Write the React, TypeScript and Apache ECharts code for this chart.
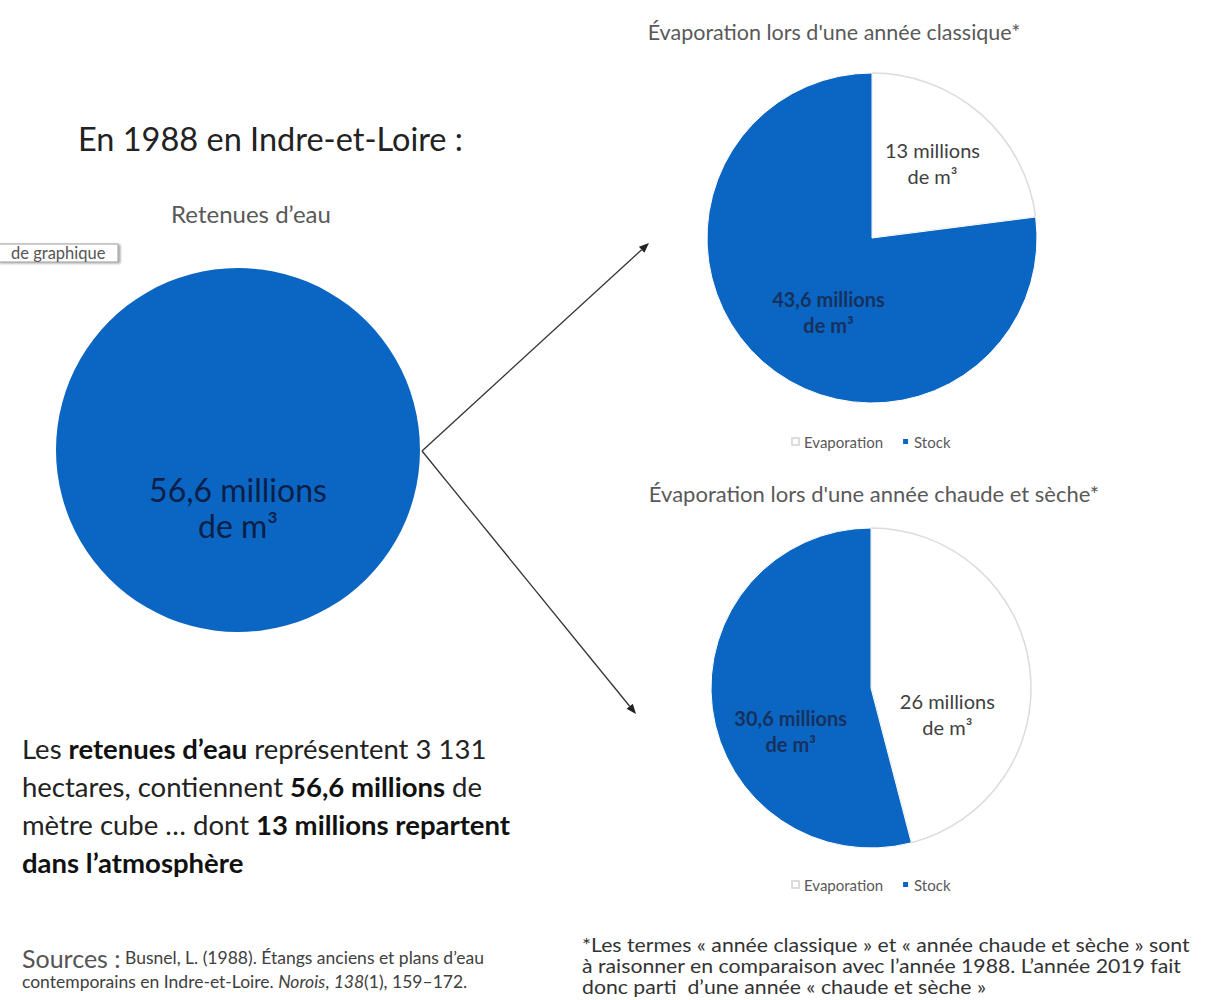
import React, { useEffect, useRef } from "react";
import * as echarts from "echarts";

// ---- data ----
const totalName = ["Retenues d'eau"];
const totalValue = [56.6];
const sliceNames = ["Evaporation", "Stock"];
const classicYear = [13, 43.6];
const hotDryYear = [26, 30.6];

const BLUE = "#0A66C2";
const FONT = "Lato, 'Open Sans', sans-serif";

const fmt = (v: number) => String(v).replace(".", ",");
const labelText = (v: number) => `${fmt(v)} millions\nde m³`;

function arrow(x1: number, y1: number, x2: number, y2: number) {
  const a = Math.atan2(y2 - y1, x2 - x1);
  const L = 10, Wd = 4;
  const bx = x2 - L * Math.cos(a), by = y2 - L * Math.sin(a);
  return [
    { type: "line", shape: { x1, y1, x2: bx, y2: by }, style: { stroke: "#333", lineWidth: 1.3 } },
    {
      type: "polygon",
      shape: {
        points: [
          [x2, y2],
          [bx + Wd * Math.sin(a), by - Wd * Math.cos(a)],
          [bx - Wd * Math.sin(a), by + Wd * Math.cos(a)],
        ],
      },
      style: { fill: "#222" },
    },
  ];
}

function slicePie(
  values: number[],
  center: number[],
  radius: number,
  labelColors: string[],
  shifts: number[][]
) {
  return {
    type: "pie",
    center,
    radius,
    startAngle: 90,
    clockwise: true,
    silent: true,
    emphasis: { disabled: true },
    label: {
      show: true,
      position: "inside",
      fontFamily: FONT,
      fontSize: 20,
      lineHeight: 26,
      formatter: (p: any) => labelText(p.value),
    },
    labelLayout: (p: any) => ({ dx: shifts[p.dataIndex][0], dy: shifts[p.dataIndex][1] }),
    labelLine: { show: false },
    data: sliceNames.map((n, i) => ({
      name: n,
      value: values[i],
      itemStyle:
        i === 0
          ? { color: "#ffffff", borderColor: "#dcdcdc", borderWidth: 1.5 }
          : { color: BLUE, borderColor: "#ffffff", borderWidth: 1 },
      label: { color: labelColors[i], fontWeight: i === 0 ? "normal" : "bold" },
    })),
  };
}

export default function App() {
  const ref = useRef<HTMLDivElement>(null);
  useEffect(() => {
    if (!ref.current) return;
    const chart = echarts.init(ref.current, undefined, { renderer: "svg" });
    const legendBase = {
      data: sliceNames, left: 786, icon: "rect", itemWidth: 7, itemHeight: 7, itemGap: 18,
      textStyle: { fontFamily: FONT, fontSize: 15, color: "#595959" },
      selectedMode: false,
    };
    const option: any = {
      animation: false,
      backgroundColor: "#ffffff",
      title: [
        {
          text: "Évaporation lors d'une année classique*",
          left: 829, top: 16, textAlign: "center",
          textStyle: { fontFamily: FONT, fontSize: 21.5, fontWeight: "normal", color: "#595959" },
        },
        {
          text: "Évaporation lors d'une année chaude et sèche*",
          left: 869, top: 477, textAlign: "center",
          textStyle: { fontFamily: FONT, fontSize: 22, fontWeight: "normal", color: "#595959" },
        },
        {
          text: "Retenues d’eau",
          left: 246, top: 196, textAlign: "center",
          textStyle: { fontFamily: FONT, fontSize: 24, fontWeight: "normal", color: "#595959" },
        },
      ],
      legend: [
        { ...legendBase, top: 429 },
        { ...legendBase, top: 872 },
      ],
      series: [
        {
          type: "pie",
          center: [238, 450],
          radius: 182,
          silent: true,
          emphasis: { disabled: true },
          label: {
            show: true, position: "center", fontFamily: FONT, fontSize: 32, lineHeight: 36,
            color: "#0b1f48",
            formatter: (p: any) => labelText(p.value),
          },
          labelLayout: { dy: 57 },
          itemStyle: { color: BLUE },
          data: totalName.map((n, i) => ({ name: n, value: totalValue[i] })),
        },
        slicePie(classicYear, [872, 238], 165, ["#404040", "#17315e"], [[4, -11], [13, 10]]),
        slicePie(hotDryYear, [871, 688], 160, ["#404040", "#17315e"], [[-6, 37], [2, 32]]),
      ],
      graphic: [
        {
          type: "text", left: 78, top: 122,
          style: { text: "En 1988 en Indre-et-Loire :", font: `32.5px ${FONT}`, fill: "#222222" },
        },
        {
          type: "rect", shape: { x: -2, y: 244, width: 120, height: 18 },
          style: { fill: "#ffffff", stroke: "#9a9a9a", lineWidth: 1, shadowColor: "rgba(0,0,0,0.35)", shadowOffsetX: 2, shadowOffsetY: 1, shadowBlur: 2 },
        },
        {
          type: "text", x: 11, y: 244,
          style: { text: "de graphique", font: `16.5px ${FONT}`, fill: "#555555" },
        },
        ...arrow(422, 451, 649, 243),
        ...arrow(422, 451, 636, 714),
        {
          type: "text", x: 22, y: 729,
          style: {
            text:
              "Les {b|retenues d’eau} représentent 3 131\n" +
              "hectares, contiennent {b|56,6 millions} de\n" +
              "mètre cube … dont {b|13 millions repartent}\n" +
              "{b|dans l’atmosphère}",
            font: `27.5px ${FONT}`,
            fill: "#222222",
            lineHeight: 38,
            rich: {
              b: { fontWeight: "bold", fontSize: 27.5, fontFamily: FONT, fill: "#111111", lineHeight: 38 },
            },
          },
        },
        {
          type: "text", x: 22, y: 945,
          style: {
            text: "{s|Sources :} Busnel, L. (1988). Étangs anciens et plans d’eau",
            font: `17.5px ${FONT}`,
            fill: "#404040",
            rich: { s: { fontSize: 25, fontFamily: FONT, fill: "#555555" } },
          },
        },
        {
          type: "text", x: 22, y: 972,
          style: {
            text: "contemporains en Indre-et-Loire. {i|Norois}, {i|138}(1), 159–172.",
            font: `17.5px ${FONT}`,
            fill: "#404040",
            rich: { i: { fontStyle: "italic", fontSize: 17.5, fontFamily: FONT, fill: "#404040" } },
          },
        },
        {
          type: "text", x: 582, y: 934, scaleX: 1.09,
          style: {
            text:
              "*Les termes « année classique » et « année chaude et sèche » sont\n" +
              "à raisonner en comparaison avec l’année 1988. L’année 2019 fait\n" +
              "donc parti  d’une année « chaude et sèche »",
            font: `19.5px ${FONT}`,
            fill: "#333333",
            lineHeight: 21,
          },
        },
      ],
    };
    chart.setOption(option);
    return () => chart.dispose();
  }, []);
  return (
    <div
      ref={ref}
      style={{ position: "fixed", left: 0, top: 0, width: 1216, height: 1000, background: "#fff" }}
    />
  );
}
